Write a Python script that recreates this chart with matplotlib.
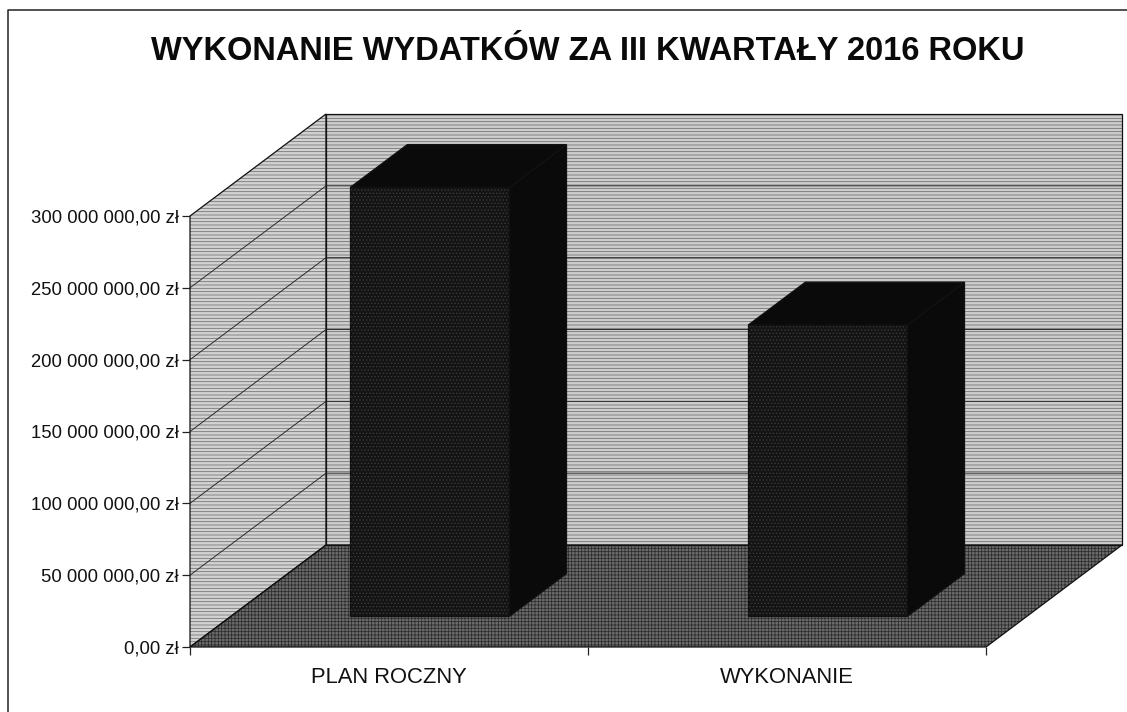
import matplotlib
matplotlib.use("Agg")
import matplotlib.pyplot as plt
from matplotlib.patches import Polygon
from matplotlib.lines import Line2D

TITLE = "WYKONANIE WYDATKÓW ZA III KWARTAŁY 2016 ROKU"
categories = ["PLAN ROCZNY", "WYKONANIE"]
values = [298600000, 202800000]
y_ticks = [0, 50000000, 100000000, 150000000, 200000000, 250000000, 300000000]
y_labels = ["0,00 zł", "50 000 000,00 zł", "100 000 000,00 zł", "150 000 000,00 zł",
            "200 000 000,00 zł", "250 000 000,00 zł", "300 000 000,00 zł"]

W, H = 1127, 712
plt.rcParams['font.family'] = ['Liberation Sans', 'DejaVu Sans']
plt.rcParams['hatch.linewidth'] = 0.55
fig = plt.figure(figsize=(W / 100, H / 100), dpi=100, facecolor='white')

L, R, B, T = 190, 986, 647, 216
ax = fig.add_axes([L / W, 1 - B / H, (R - L) / W, (B - T) / H])
ax.set_xlim(0, 2)
ax.set_ylim(0, 300000000)
ax.patch.set_visible(False)
for s in ax.spines.values():
    s.set_visible(False)

dx_units = 136 / ((R - L) / 2)
dy_units = 102 / ((B - T) / 300000000)


def p(x, y, d):
    return (x + d * dx_units, y + d * dy_units)


def poly(points, face, hatch=None, hcolor='k', z=1):
    ax.add_patch(Polygon(points, closed=True, facecolor=face, edgecolor=hcolor, hatch=hatch,
                         linewidth=0, clip_on=False, zorder=z))
    ax.add_patch(Polygon(points, closed=True, fill=False, edgecolor='#111111', linewidth=0.9,
                         clip_on=False, zorder=z + 0.1))


ymax = y_ticks[-1]
# walls and floor
poly([p(0, 0, 1), p(2, 0, 1), p(2, ymax, 1), p(0, ymax, 1)], '#cdcdcd', '-----', '#6a6a6a', 1)
poly([p(0, 0, 0), p(0, 0, 1), p(0, ymax, 1), p(0, ymax, 0)], '#d2d2d2', '-----', '#707070', 1)
poly([p(0, 0, 0), p(2, 0, 0), p(2, 0, 1), p(0, 0, 1)], '#6a6a6a', '+++++', '#2c2c2c', 1)

# gridlines
for v in y_ticks[1:-1]:
    a, b, c = p(0, v, 0), p(0, v, 1), p(2, v, 1)
    ax.add_line(Line2D([a[0], b[0], c[0]], [a[1], b[1], c[1]], color='#222222', lw=0.65,
                       clip_on=False, zorder=2))

# bars
centers = [0.5, 1.5]
bw = 0.40
d0, d1 = 0.30, 0.72
for i, (c, v) in enumerate(zip(centers, values)):
    x0, x1 = c - bw / 2, c + bw / 2
    z = 3 + i
    poly([p(x0, v, d0), p(x1, v, d0), p(x1, v, d1), p(x0, v, d1)], '#0a0a0a', None, 'k', z)
    poly([p(x1, 0, d0), p(x1, 0, d1), p(x1, v, d1), p(x1, v, d0)], '#0a0a0a', None, 'k', z)
    poly([p(x0, 0, d0), p(x1, 0, d0), p(x1, v, d0), p(x0, v, d0)], '#141414', '.....', '#3c3c3c', z)

# axes ticks
ax.set_yticks(y_ticks)
ax.set_yticklabels(y_labels, fontsize=13.3, color='#111111')
ax.tick_params(axis='y', length=6, width=0.9, pad=2, color='#222222')
ax.set_xticks([0, 1, 2])
ax.set_xticklabels([])
ax.set_xticks(centers, minor=True)
ax.set_xticklabels(categories, minor=True, fontsize=15.8, color='#111111')
ax.tick_params(axis='x', which='major', length=6, width=0.9, color='#222222')
ax.tick_params(axis='x', which='minor', length=0, pad=14.5)

fig.text(588 / W, 1 - 52 / H, TITLE, ha='center', va='center', fontsize=23.5,
         fontweight='bold', color='#0a0a0a')

# outer frame
fig.add_artist(Line2D([8 / W, 8 / W, 1], [0, 1 - 10 / H, 1 - 10 / H], transform=fig.transFigure,
                      color='#222222', lw=1.1))

fig.savefig("out.png", dpi=100, facecolor='white')
